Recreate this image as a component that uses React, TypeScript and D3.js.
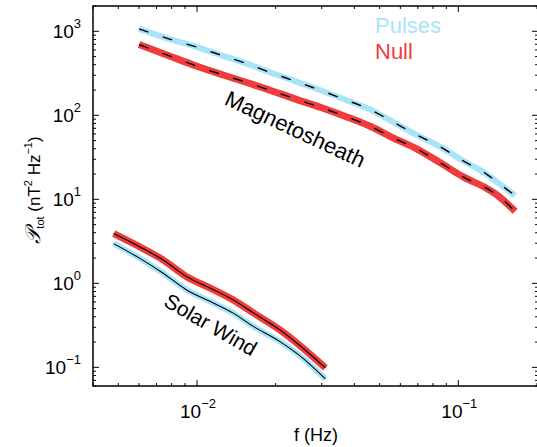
import React from "react";
import * as d3 from "d3";

const W = 537;
const H = 447;

// Magnetosheath spectra
const msFreq = [0.006, 0.0078, 0.01, 0.0125, 0.0155, 0.019, 0.024, 0.03, 0.037, 0.046, 0.056, 0.069, 0.085, 0.104, 0.129, 0.14, 0.165];
const msPulses = [1068, 812, 648, 514, 412, 325, 252, 196, 153, 117, 84, 58.9, 42.4, 28.9, 19.7, 16.2, 11.1];
const msNull = [695, 512, 383, 304, 246, 199, 155, 123, 97, 74, 54.3, 40.2, 27.4, 18.6, 13.4, 11.4, 7.2];

// Solar wind spectra
const swFreq = [0.0048, 0.006, 0.0074, 0.0091, 0.0112, 0.0137, 0.0166, 0.0207, 0.0254, 0.031];
const swPulses = [2.97, 2.01, 1.33, 0.841, 0.611, 0.445, 0.301, 0.204, 0.129, 0.0728];
const swNull = [3.91, 2.75, 1.91, 1.21, 0.881, 0.64, 0.436, 0.281, 0.17, 0.0984];

const xDomain = [0.004, 0.2];
const yDomain = [0.06, 2000];
const xMajor = [0.01, 0.1];
const xMajorExp = ["\u22122", "\u22121"];
const yMajor = [0.1, 1, 10, 100, 1000];
const yMajorExp = ["\u22121", "0", "1", "2", "3"];

const legendLabels = ["Pulses", "Null"];

const CYAN = "#a8e4f8";
const RED = "#f03c3c";
const FONT = "'Liberation Sans', Arial, Helvetica, sans-serif";

export default function App() {
  const L = 93, R = 537, T = 6, B = 386;
  const x = d3.scaleLog().domain(xDomain).range([L, R]);
  const y = d3.scaleLog().domain(yDomain).range([B, T]);

  const line = (fs: number[], ps: number[]) =>
    d3
      .line<number>()
      .x((_, i) => x(fs[i]))
      .y((p) => y(p))
      .curve(d3.curveMonotoneX)(ps) as string;

  const isMajor = (v: number) => Math.abs(Math.log10(v) - Math.round(Math.log10(v))) < 1e-6;
  const xTicks = x.ticks().filter((v) => v >= xDomain[0] - 1e-9 && v <= xDomain[1] + 1e-9);
  const yTicks = y.ticks().filter((v) => v >= yDomain[0] - 1e-9 && v <= yDomain[1] + 1e-9);

  const tickStroke = { stroke: "#000", strokeWidth: 1 };

  return (
    <svg
      width={W}
      height={H}
      style={{ position: "absolute", left: 0, top: 0, background: "#fff" }}
      fontFamily={FONT}
    >
      <rect x={0} y={0} width={W} height={H} fill="#fff" />
      {/* bands */}
      <path d={line(msFreq, msPulses)} fill="none" stroke={CYAN} strokeWidth={6} strokeLinejoin="round" />
      <path d={line(msFreq, msNull)} fill="none" stroke={RED} strokeWidth={7} strokeLinejoin="round" />
      <path d={line(swFreq, swPulses)} fill="none" stroke={CYAN} strokeWidth={6} strokeLinejoin="round" />
      <path d={line(swFreq, swNull)} fill="none" stroke={RED} strokeWidth={7} strokeLinejoin="round" />
      {/* center lines */}
      <path d={line(msFreq, msPulses)} fill="none" stroke="#000" strokeWidth={1.4} strokeDasharray="10,15" />
      <path d={line(msFreq, msNull)} fill="none" stroke="#000" strokeWidth={1.4} strokeDasharray="10,15" />
      <path d={line(swFreq, swPulses)} fill="none" stroke="#000" strokeWidth={1.1} />
      <path d={line(swFreq, swNull)} fill="none" stroke="#000" strokeWidth={1.1} />

      {/* ticks */}
      {xTicks.map((v, i) => {
        const len = isMajor(v) ? 6 : 3;
        return (
          <g key={"xt" + i}>
            <line x1={x(v)} x2={x(v)} y1={B} y2={B - len} {...tickStroke} />
            <line x1={x(v)} x2={x(v)} y1={T} y2={T + len} {...tickStroke} />
          </g>
        );
      })}
      {yTicks.map((v, i) => {
        const len = isMajor(v) ? 6 : 3;
        return (
          <g key={"yt" + i}>
            <line x1={L} x2={L + len} y1={y(v)} y2={y(v)} {...tickStroke} />
            <line x1={R + 1} x2={R + 1 - len} y1={y(v)} y2={y(v)} {...tickStroke} />
          </g>
        );
      })}

      {/* frame */}
      <rect x={L} y={T} width={R + 1.5 - L} height={B - T} fill="none" stroke="#000" strokeWidth={1.5} />

      {/* tick labels */}
      {yMajor.map((v, i) => (
        <text key={"yl" + i} x={81} y={y(v) + 7} textAnchor="end" fontSize={19} fill="#000">
          10
          <tspan fontSize={13} dy={-10}>{yMajorExp[i]}</tspan>
        </text>
      ))}
      {xMajor.map((v, i) => (
        <text key={"xl" + i} x={x(v) + 1} y={418} textAnchor="middle" fontSize={19} fill="#000">
          10
          <tspan fontSize={13} dy={-10}>{xMajorExp[i]}</tspan>
        </text>
      ))}

      {/* axis labels */}
      <text x={316} y={441} textAnchor="middle" fontSize={18} fill="#000">
        f (Hz)
      </text>
      <text transform="translate(40,190) rotate(-90)" textAnchor="middle" fontSize={17} fill="#000">
        <tspan fontFamily="'DejaVu Serif', serif" fontStyle="italic" fontSize={21}>{"\u{1D4AB}"}</tspan>
        <tspan fontSize={11} dy={4}>tot</tspan>
        <tspan dy={-4}> (nT</tspan>
        <tspan fontSize={11} dy={-8}>2</tspan>
        <tspan dy={8}> Hz</tspan>
        <tspan fontSize={11} dy={-8}>{"\u22121"}</tspan>
        <tspan dy={8}>)</tspan>
      </text>

      {/* curve labels */}
      <text transform="translate(292,136) rotate(25)" textAnchor="middle" fontSize={22} fill="#000">
        Magnetosheath
      </text>
      <text transform="translate(207,331) rotate(30)" textAnchor="middle" fontSize={21} fill="#000">
        Solar Wind
      </text>

      {/* legend */}
      <text x={375} y={33} fontSize={22} fill={CYAN}>
        {legendLabels[0]}
      </text>
      <text x={375} y={59} fontSize={22} fill={RED}>
        {legendLabels[1]}
      </text>
    </svg>
  );
}
